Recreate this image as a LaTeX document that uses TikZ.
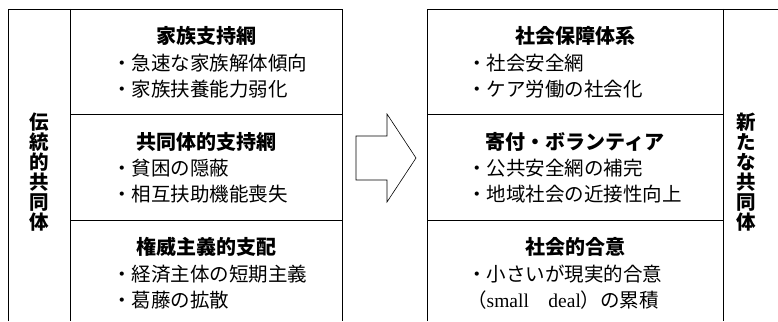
\documentclass[tikz,border=0pt]{standalone}
\usepackage{fontspec}
\setmainfont{Noto Sans CJK JP}
\newfontfamily\lserif{Liberation Serif}
\usetikzlibrary{positioning}

\begin{document}
\begin{tikzpicture}[
        x=1pt, y=-1pt,
        frame/.style={draw, line width=0.9pt},
        title/.style={font=\fontsize{20}{24}\selectfont\bfseries, inner sep=0pt},
        item/.style={font=\fontsize{19.5}{24}\selectfont, inner sep=0pt, anchor=west},
        vtext/.style={font=\fontsize{19.5}{20}\selectfont\bfseries, align=center, inner sep=0pt}
    ]
        \useasboundingbox (0,0) rectangle (778,321);

        % Left frame (traditional community)
        \draw[frame] (8,321) -- (8,9) -- (342,9) -- (342,321);
        \draw[frame] (70,9) -- (70,321);
        \foreach \y in {114,220} {
            \draw[frame] (70,\y) -- (342,\y);
        }
        \node[vtext] (old) at (39,172) {伝\\統\\的\\共\\同\\体};

        % Left boxes
        \foreach \i/\ttl/\a/\b in {1/家族支持網/・急速な家族解体傾向/・家族扶養能力弱化,
                                  2/共同体的支持網/・貧困の隠蔽/・相互扶助機能喪失,
                                  3/権威主義的支配/・経済主体の短期主義/・葛藤の拡散} {
            \pgfmathsetmacro{\ytop}{9+105.5*(\i-1)}
            \node[title] (lt\i) at (206, \ytop+27) {\ttl};
            \node[item] (la\i) at (112, \ytop+54) {\a};
            \node[item] (lb\i) at (112, \ytop+80) {\b};
        }

        % Block arrow
        \draw[line width=0.6pt] (356,136) -- (387,136) -- (387,114) -- (416,158)
            -- (387,202) -- (387,180) -- (356,180) -- cycle;

        % Right frame (new community)
        \draw[frame] (427,321) -- (427,9) -- (778,9);
        \draw[frame] (723,9) -- (723,321);
        \foreach \y in {114,220} {
            \draw[frame] (427,\y) -- (723,\y);
        }
        \node[vtext] (new) at (746,172) {新\\た\\な\\共\\同\\体};

        % Right boxes
        \foreach \i/\ttl/\a/\b in {1/社会保障体系/・社会安全網/・ケア労働の社会化,
                                  2/寄付・ボランティア/・公共安全網の補完/・地域社会の近接性向上,
                                  3/社会的合意/・小さいが現実的合意/{（{\lserif small\hspace{1em}deal}）の累積}} {
            \pgfmathsetmacro{\ytop}{9+105.5*(\i-1)}
            \node[title] (rt\i) at (575, \ytop+27) {\ttl};
            \node[item] (ra\i) at (467, \ytop+54) {\a};
            \node[item] (rb\i) at (467, \ytop+80) {\b};
        }
    \end{tikzpicture}
\end{document}
